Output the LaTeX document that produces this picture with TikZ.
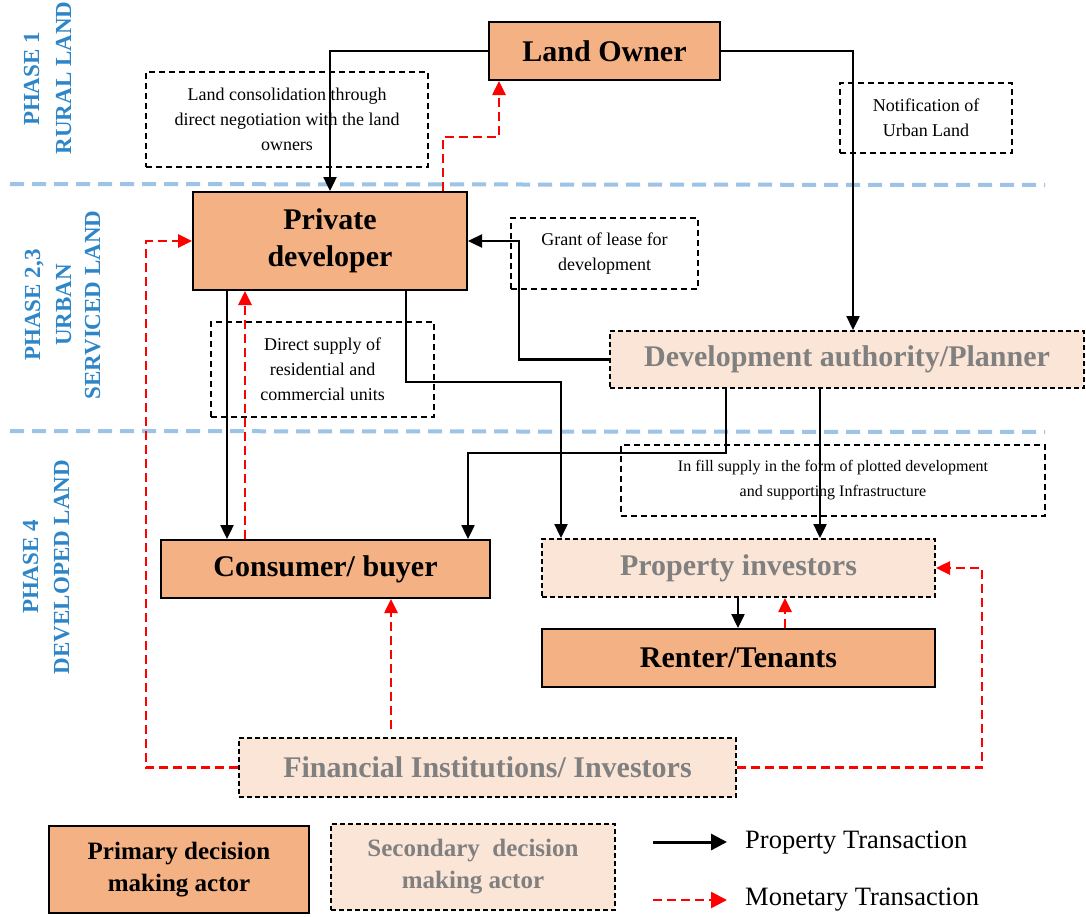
\documentclass[tikz,border=0pt]{standalone}
\usepackage{fontspec}
\setmainfont{Liberation Serif}
\usetikzlibrary{arrows.meta,calc}
\definecolor{orangeF}{HTML}{F4B183}
\definecolor{lightF}{HTML}{FBE5D6}
\definecolor{greyT}{HTML}{808080}
\definecolor{phaseblue}{RGB}{46,134,200}
\definecolor{lineblue}{HTML}{9DC3E6}
\newcommand\boxfont{\fontsize{30}{37}\selectfont\bfseries}
\newcommand\notefont{\fontsize{18}{25}\selectfont}
\newcommand\smallnotefont{\fontsize{16}{25}\selectfont}
\newcommand\phasefont{\fontsize{23}{25}\selectfont\bfseries}
\newcommand\legfont{\fontsize{25}{32}\selectfont}
\newcommand\legtxtfont{\fontsize{26.5}{32}\selectfont}
\tikzset{
  primary/.style={draw=black, line width=2pt, fill=orangeF, inner sep=0pt, align=center, font=\boxfont},
  secondary/.style={draw=black, line width=2pt, dash pattern=on 5pt off 3pt, fill=lightF, text=greyT, inner sep=0pt, align=center, font=\boxfont},
  note/.style={draw=black, line width=1.7pt, dash pattern=on 6pt off 4pt, inner sep=0pt, align=center, font=\notefont},
  prop/.style={line width=2.4pt, -{Triangle[length=14pt,width=13pt]}},
  mon/.style={red, line width=2.6pt, dash pattern=on 9pt off 5pt, -{Triangle[length=14pt,width=13pt]}},
  phase/.style={text=phaseblue, font=\phasefont, rotate=90, anchor=base, inner sep=0pt},
  blueline/.style={lineblue, line width=4pt, dash pattern=on 14pt off 8pt}
}
\begin{document}
\begin{tikzpicture}[x=1pt,y=-1pt]
\useasboundingbox (0,0) rectangle (1086,916);

% phase separators
\draw[blueline] (10,184) -- (1045,185);
\draw[blueline] (10,431) -- (1045,432);

% phase labels
\node[phase] (p1a) at (39,79) {PHASE 1};
\node[phase] (p1b) at (71,78) {RURAL LAND};
\node[phase] (p2a) at (40,305) {PHASE 2,3};
\node[phase] (p2b) at (71,305) {URBAN};
\node[phase] (p2c) at (100,305) {SERVICED LAND};
\node[phase] (p4a) at (38,567) {PHASE 4};
\node[phase] (p4b) at (69,567) {DEVELOPED LAND};

% annotation boxes
\node[note, minimum width=282pt, minimum height=95pt] (LC) at (287,119.5) {Land consolidation through\\direct negotiation with the land\\owners};
\node[note, minimum width=172pt, minimum height=70pt] (NU) at (926,118) {Notification of\\Urban Land};
\node[note, minimum width=187pt, minimum height=71pt] (GL) at (604.5,253.5) {Grant of lease for\\development};
\node[note, minimum width=223pt, minimum height=95pt] (DS) at (322.5,369.5) {Direct supply of\\residential and\\commercial units};
\node[note, font=\smallnotefont, minimum width=424pt, minimum height=71pt] (IF) at (833,480.5) {In fill supply in the form of plotted development\\and supporting Infrastructure};

% actors
\node[primary, minimum width=231pt, minimum height=58pt] (LO) at (604.5,51) {Land Owner};
\node[primary, minimum width=274pt, minimum height=98pt] (PD) at (330,241) {Private\\developer};
\node[secondary, minimum width=474pt, minimum height=57pt] (DA) at (847,359.5) {Development authority/Planner};
\node[primary, minimum width=329pt, minimum height=58pt] (CB) at (325.5,569) {Consumer/ buyer};
\node[secondary, minimum width=393pt, minimum height=58pt] (PI) at (738.5,568) {Property investors};
\node[primary, minimum width=393pt, minimum height=58pt] (RT) at (738.5,658) {Renter/Tenants};
\node[secondary, minimum width=497pt, minimum height=59pt] (FI) at (487.5,767.5) {Financial Institutions/ Investors};

% corner coordinates
\coordinate (c3) at (499,137);
\coordinate (c4) at (519,241);
\coordinate (c7) at (561,382);
\coordinate (c8) at (468,453);
\coordinate (c13) at (146,767.5);
\coordinate (c14) at (982,767.5);

% property transactions
\draw[prop] (LO.west) -| (PD.north);
\draw[prop] (LO.east) -| ([xshift=6pt]DA.north);
\draw[prop] (DA.west) -| (c4) -- (PD.east);
\draw[prop] ([xshift=35pt]PD.south west) coordinate (s5) -- (s5 |- CB.north);
\draw[prop] ([xshift=214pt]PD.south west) |- (c7) -- (c7 |- PI.north);
\draw[prop] ([xshift=117pt]DA.south west) |- (c8) -- (c8 |- CB.north);
\draw[prop] ([xshift=211pt]DA.south west) coordinate (s9) -- (s9 |- PI.north);
\draw[prop] ([xshift=197pt]PI.south west) coordinate (s10) -- (s10 |- RT.north);

% monetary transactions
\draw[mon] ([xshift=113pt]PD.north) |- (c3) -- (c3 |- LO.south);
\draw[mon] ([xshift=85pt]CB.north west) coordinate (s6) -- (s6 |- PD.south);
\draw[mon] ([xshift=244pt]RT.north west) coordinate (s11) -- (s11 |- PI.south);
\draw[mon, shorten <=8pt] ([xshift=153pt]FI.north west) coordinate (s12) -- (s12 |- CB.south);
\draw[mon] (FI.west) -- (c13) |- (PD.west);
\draw[mon] (FI.east) -- (c14) |- (PI.east);

% legend
\node[primary, font=\legfont\bfseries, minimum width=260pt, minimum height=87pt] (LP) at (179,869.5) {Primary decision\\making actor};
\node[secondary, font=\legfont\bfseries, minimum width=284pt, minimum height=86pt] (LS) at (473,867) {Secondary~ decision\\making actor};
\coordinate (la1) at (653,842);
\coordinate (la2) at (727,842);
\coordinate (lb1) at (653,900);
\coordinate (lb2) at (727,900);
\draw[prop, -{Triangle[length=16pt,width=16pt]}, line width=3pt] (la1) -- (la2);
\draw[mon, -{Triangle[length=16pt,width=16pt]}] (lb1) -- (lb2);
\node[anchor=west, inner sep=0pt, font=\legtxtfont] (LT1) at (745,843) {Property Transaction};
\node[anchor=west, inner sep=0pt, font=\legtxtfont] (LT2) at (745,900) {Monetary Transaction};
\end{tikzpicture}
\end{document}
